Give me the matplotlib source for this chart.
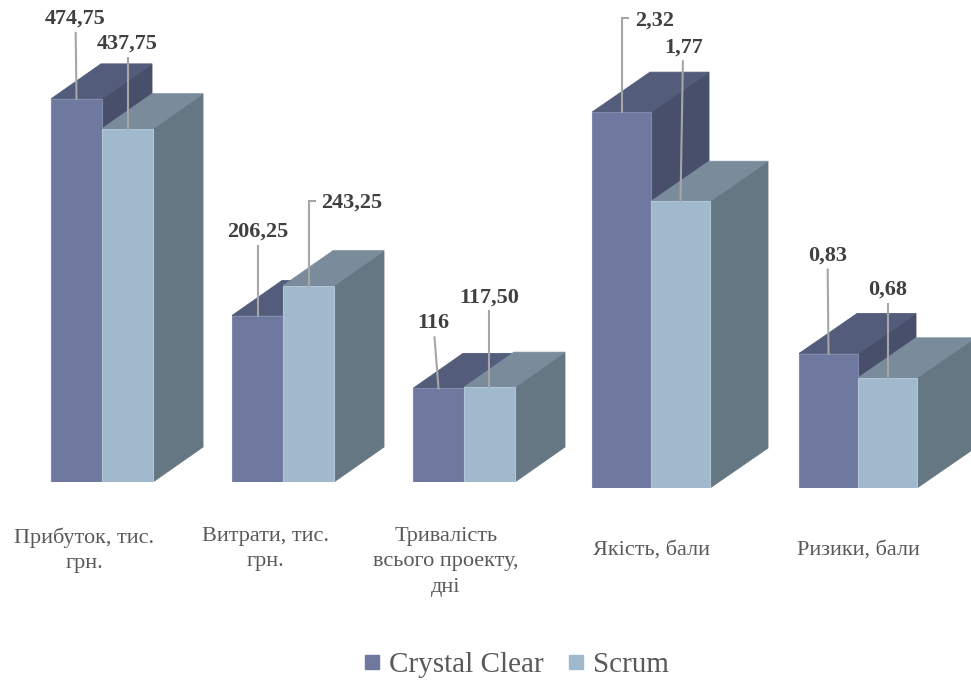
import matplotlib
matplotlib.use("Agg")
import matplotlib.pyplot as plt
from matplotlib.patches import Polygon
from matplotlib.lines import Line2D

plt.rcParams['font.family'] = ['Liberation Serif', 'DejaVu Serif']

# ---------------- data ----------------
categories_left = ["Прибуток, тис.\nгрн.", "Витрати, тис.\nгрн.", "Тривалість\nвсього проекту,\nдні"]
categories_right = ["Якість, бали", "Ризики, бали"]
series_names = ["Crystal Clear", "Scrum"]
crystal_left = [474.75, 206.25, 116.0]
scrum_left = [437.75, 243.25, 117.50]
crystal_right = [2.32, 0.83]
scrum_right = [1.77, 0.68]
labels_crystal_left = ["474,75", "206,25", "116"]
labels_scrum_left = ["437,75", "243,25", "117,50"]
labels_crystal_right = ["2,32", "0,83"]
labels_scrum_right = ["1,77", "0,68"]

# ---------------- style ----------------
FRONT = ["#6f789e", "#a0b9cd"]
TOP = ["#535c7b", "#7a8c9b"]
SIDE = ["#474f6b", "#667784"]
EDGE = ["#8189ad", "#b3c6d5"]
LEADER = "#a6a6a6"
LABEL_C = "#404040"
CAT_C = "#595959"

W, H, DPI = 971, 684, 100
fig = plt.figure(figsize=(W / DPI, H / DPI), dpi=DPI)


def make_axes(x0px, x1px, base_px, center0_px, spacing_px, px_per_unit):
    ax = fig.add_axes([x0px / W, (H - base_px) / H, (x1px - x0px) / W, base_px / H])
    ax.set_xlim((x0px - center0_px) / spacing_px, (x1px - center0_px) / spacing_px)
    ax.set_ylim(0, base_px / px_per_unit)
    ax.axis("off")
    return ax


def px_to_data(ax, dxp, dyp):
    inv = ax.transData.inverted()
    p0 = inv.transform((0, 0))
    p1 = inv.transform((dxp, dyp))
    return p1[0] - p0[0], p1[1] - p0[1]


def draw_panel(ax, cc, sc, lcc, lsc, cats, bar_px, depth_px, label_offsets, cat_shift_px, cat_top_px):
    bw, _ = px_to_data(ax, bar_px, 0)
    ddx, ddy = px_to_data(ax, depth_px[0], depth_px[1])
    for i in range(len(cc)):
        for s, (vals, labs) in enumerate([(cc, lcc), (sc, lsc)]):
            v = vals[i]
            x0 = i - bw + s * bw
            x1 = x0 + bw
            side = [(x1, 0), (x1 + ddx, ddy), (x1 + ddx, v + ddy), (x1, v)]
            top = [(x0, v), (x1, v), (x1 + ddx, v + ddy), (x0 + ddx, v + ddy)]
            front = [(x0, 0), (x1, 0), (x1, v), (x0, v)]
            ax.add_patch(Polygon(side, closed=True, fc=SIDE[s], ec=SIDE[s], lw=0.6))
            ax.add_patch(Polygon(top, closed=True, fc=TOP[s], ec=TOP[s], lw=0.6))
            ax.add_patch(Polygon(front, closed=True, fc=FRONT[s], ec=EDGE[s], lw=0.8))
            # data label with leader line
            (ox, oy, style) = label_offsets[s][i]
            xc = (x0 + x1) / 2
            ax.annotate(labs[i], xy=(xc, v), xytext=(ox, oy), textcoords="offset pixels",
                        ha="center", va="center", fontsize=16, fontweight="bold",
                        color=LABEL_C, zorder=5)
            if style == "L":
                lx, ly = px_to_data(ax, 0, oy + 2)
                tx, _ = px_to_data(ax, 6, 0)
                ax.plot([xc, xc, xc + tx], [v, v + ly, v + ly], color=LEADER, lw=1.5, zorder=4,
                        solid_joinstyle="miter")
            else:
                sx, sy = px_to_data(ax, ox * 0.8, oy - 14)
                ax.plot([xc + sx, xc], [v + sy, v], color=LEADER, lw=1.5, zorder=4)
        sh, _ = px_to_data(ax, cat_shift_px, 0)
        _, ty = px_to_data(ax, 0, cat_top_px)
        ax.text(i + sh, -ty, cats[i], ha="center", va="top", fontsize=16, color=CAT_C,
                linespacing=1.45, clip_on=False)


# left panel
axL = make_axes(0, 590, 482, 102, 181, 0.807)
offsL = [
    [(-1, 80, "I"), (0, 84, "I"), (-5, 65, "I")],
    [(0, 85, "I"), (43, 83, "L"), (0, 90, "I")],
]
draw_panel(axL, crystal_left, scrum_left, labels_crystal_left, labels_scrum_left,
           categories_left, 51, (50, 35), offsL, -18, 45)

# right panel
axR = make_axes(560, 971, 488, 651, 207, 162.0)
offsR = [
    [(33, 92, "L"), (-1, 98, "I")],
    [(3, 154, "I"), (0, 88, "I")],
]
draw_panel(axR, crystal_right, scrum_right, labels_crystal_right, labels_scrum_right,
           categories_right, 59, (58, 40), offsR, 0, 53)

# legend
handles = [Line2D([], [], marker="s", ls="", markersize=9.5, mfc=FRONT[k], mec=FRONT[k])
           for k in range(2)]
fig.legend(handles, series_names, loc="center", bbox_to_anchor=(516 / W, 1 - 665 / H),
           ncol=2, frameon=False, fontsize=21, labelcolor=CAT_C, handlelength=0.6,
           handletextpad=0.3, columnspacing=0.8)

fig.savefig("out.png", dpi=DPI)
